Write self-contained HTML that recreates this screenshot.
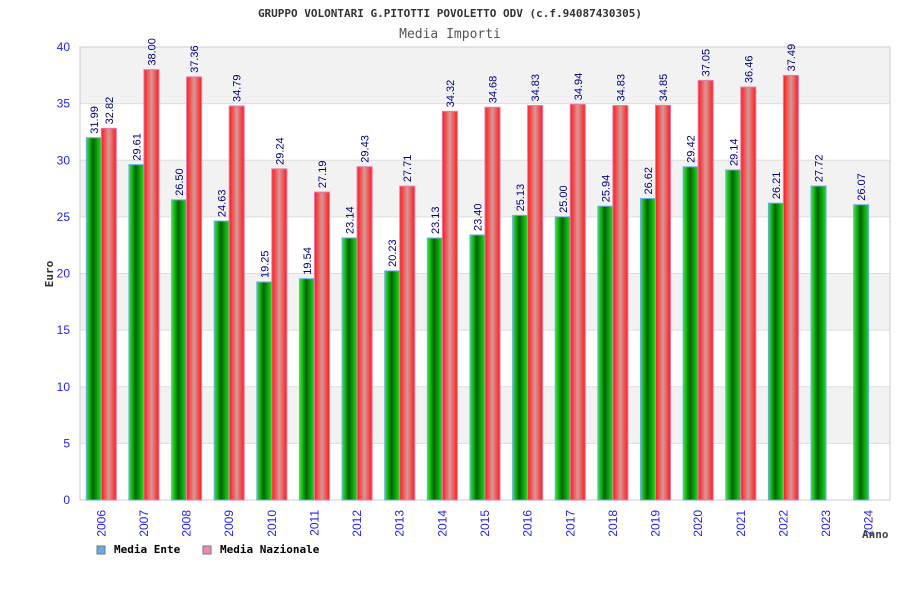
<!DOCTYPE html>
<html><head><meta charset="utf-8"><style>
body{margin:0;background:#fff;}
svg text{font-family:"DejaVu Sans Mono","Liberation Mono",monospace;}
svg text.sans{font-family:"Liberation Sans","DejaVu Sans",sans-serif;}
</style></head><body>
<svg id="chart" width="900" height="600">
<defs>
<linearGradient id="gG" x1="0" x2="1" y1="0" y2="0">
<stop offset="0" stop-color="#33ee33"/><stop offset="0.45" stop-color="#006600"/><stop offset="1" stop-color="#22dd22"/></linearGradient>
<linearGradient id="gR" x1="0" x2="1" y1="0" y2="0">
<stop offset="0" stop-color="#ff1a1a"/><stop offset="0.5" stop-color="#d89898"/><stop offset="1" stop-color="#ff1a1a"/></linearGradient>
</defs>
<text x="450" y="17" text-anchor="middle" font-size="11" font-weight="bold" fill="#333">GRUPPO VOLONTARI G.PITOTTI POVOLETTO ODV (c.f.94087430305)</text>
<text x="450" y="38" text-anchor="middle" font-size="13" fill="#555">Media Importi</text>
<g id="bands"></g><g id="bars"></g><g id="labels"></g>
<text transform="translate(53,274) rotate(-90)" text-anchor="middle" font-size="11" font-weight="bold" fill="#333">Euro</text>
<text x="862" y="538" font-size="11" font-weight="bold" fill="#444">Anno</text>
<rect x="97" y="546" width="8" height="8" fill="#66aaee" stroke="#777"/>
<text x="114" y="553" font-size="11" font-weight="bold" fill="#000">Media Ente</text>
<rect x="203" y="546" width="8" height="8" fill="#ee88bb" stroke="#777"/>
<text x="220" y="553" font-size="11" font-weight="bold" fill="#000">Media Nazionale</text>
</svg>
<script>
const categories=["2006","2007","2008","2009","2010","2011","2012","2013","2014","2015","2016","2017","2018","2019","2020","2021","2022","2023","2024"];
const enteValues=[31.99,29.61,26.50,24.63,19.25,19.54,23.14,20.23,23.13,23.40,25.13,25.00,25.94,26.62,29.42,29.14,26.21,27.72,26.07];
const nazValues=[32.82,38.00,37.36,34.79,29.24,27.19,29.43,27.71,34.32,34.68,34.83,34.94,34.83,34.85,37.05,36.46,37.49,null,null];
const yTicks=[0,5,10,15,20,25,30,35,40];
const NS="http://www.w3.org/2000/svg";
const L=80,R=890,T=47,B=500,YMAX=40;
const y=v=>B-(v/YMAX)*(B-T);
const cw=(R-L)/categories.length;
const xc=i=>L+cw*(i+0.5);
function mk(t,a,p){const e=document.createElementNS(NS,t);for(const k in a)e.setAttribute(k,a[k]);(p||document.getElementById('chart')).appendChild(e);return e;}
const bands=document.getElementById('bands'),bars=document.getElementById('bars'),labs=document.getElementById('labels');
for(let i=0;i<yTicks.length-1;i++){
 const r=mk('rect',{x:L,y:y(yTicks[i+1]),width:R-L,height:y(yTicks[i])-y(yTicks[i+1]),fill:i%2?'#f2f2f2':'#ffffff'},bands);
 
 
}
yTicks.forEach(t=>{
 const l=mk('line',{x1:L,x2:R,y1:y(t),y2:y(t),stroke:'#dddddd'},bands);
 
 
 const tx=mk('text',{class:'sans',x:L-10,y:y(t)+4,'text-anchor':'end','font-size':'12',fill:'#2222ee'},labs);
 tx.textContent=t;
 
 
});
mk('rect',{x:L,y:T,width:R-L,height:B-T,fill:'none',stroke:'#cccccc'},bands);
const bw=15;
categories.forEach((c,i)=>{
 const cx=xc(i);
 const v=enteValues[i];
 const g=mk('rect',{x:cx-bw,y:y(v),width:bw,height:B-y(v),fill:'url(#gG)',stroke:'#66aaee','stroke-width':'1'},bars);
 
 
 const gt=mk('text',{class:'sans',transform:`translate(${cx-bw/2+4},${y(v)-4}) rotate(-90)`,'font-size':'11',fill:'#000080'},labs);
 gt.textContent=v.toFixed(2);
 
 
 const n=nazValues[i];
 if(n!==null){
  const r=mk('rect',{x:cx,y:y(n),width:bw,height:B-y(n),fill:'url(#gR)',stroke:'#ee77aa','stroke-width':'1'},bars);
  
  
  const rt=mk('text',{class:'sans',transform:`translate(${cx+bw/2+4},${y(n)-4}) rotate(-90)`,'font-size':'11',fill:'#000080'},labs);
  rt.textContent=n.toFixed(2);
  
  
 }
 const xt=mk('text',{class:'sans',transform:`translate(${cx+4},${B+10}) rotate(-90)`,'text-anchor':'end','font-size':'12',fill:'#2222ee'},labs);
 xt.textContent=c;
 
 
});
</script>
</body></html>
